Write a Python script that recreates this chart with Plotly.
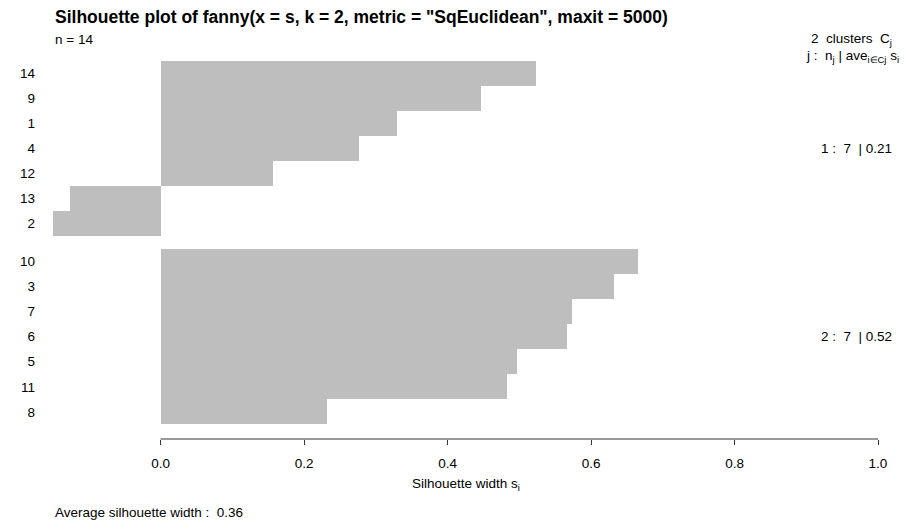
import plotly.graph_objects as go

# ---- data ----
cluster1_labels = ["14", "9", "1", "4", "12", "13", "2"]
cluster1_widths = [0.523, 0.447, 0.330, 0.276, 0.157, -0.127, -0.150]
cluster2_labels = ["10", "3", "7", "6", "5", "11", "8"]
cluster2_widths = [0.665, 0.632, 0.574, 0.567, 0.497, 0.483, 0.232]
cluster_ids = [1, 2]
cluster_sizes = [7, 7]
cluster_avgs = [0.21, 0.52]
avg_width = 0.36
n_obs = 14
x_ticks = [0.0, 0.2, 0.4, 0.6, 0.8, 1.0]

FONT = "Liberation Sans, Arial, Helvetica, sans-serif"
BAR = "#BEBEBE"
SP = "&nbsp;"

clusters = [(cluster1_labels, cluster1_widths), (cluster2_labels, cluster2_widths)]

# bar positions: bottom-up, half-bar gap between clusters (like R barplot space)
ypos, ylab, xval, centers = [], [], [], {}
pos = 0.0
for ci in reversed(range(len(clusters))):
    labs, vals = clusters[ci]
    start = pos
    for lab, v in zip(reversed(labs), reversed(vals)):
        ypos.append(pos + 0.5)
        ylab.append(lab)
        xval.append(v)
        pos += 1
    centers[ci] = (start + pos) / 2
    pos += 0.5
top = pos - 0.5
ext = 0.04 * top
yrange = [-ext, top + ext]

fig = go.Figure()
fig.add_trace(go.Bar(
    x=xval, y=ypos, orientation="h", width=1.0,
    marker=dict(color=BAR, line=dict(width=0)),
    hoverinfo="skip", showlegend=False,
))

OFF = 8  # page body margin in the browser
W, H = 908 - OFF, 521 - OFF
ml, mr, mt, mb = 44 - OFF, 30, 46 - OFF, 82
pw, ph = W - ml - mr, H - mt - mb


def px_x(p):  # p = pixel x in the reference picture
    return (p - OFF - ml) / pw


def px_y(p):  # p = pixel y in the reference picture
    return (H - mb - (p - OFF)) / ph


fig.update_layout(
    width=W, height=H,
    margin=dict(l=ml, r=mr, t=mt, b=mb, pad=0),
    paper_bgcolor="white", plot_bgcolor="white",
    font=dict(family=FONT, size=13.5, color="black"),
    bargap=0,
    xaxis=dict(
        range=[min(0, min(cluster1_widths + cluster2_widths)), 1.0],
        tickvals=x_ticks, ticktext=[f"{t:.1f}" for t in x_ticks],
        ticks="outside", ticklen=5, tickwidth=1, tickcolor="#333333",
        showgrid=False, zeroline=False, showline=False,
        ticklabelstandoff=7,
        tickfont=dict(size=13.5, color="black"),
    ),
    yaxis=dict(
        range=yrange, tickvals=ypos, ticktext=ylab,
        ticks="", showgrid=False, zeroline=False, showline=False,
        ticklabelstandoff=17,
        tickfont=dict(size=13.5, color="black"),
    ),
)

# axis line from 0 to 1 like R's axis()
fig.add_shape(type="line", xref="x", yref="paper", x0=x_ticks[0], x1=x_ticks[-1], y0=0, y1=0,
              line=dict(color="#333333", width=1))

ann = []
ann.append(dict(text="<b>Silhouette plot of fanny(x = s, k = 2, metric = \"SqEuclidean\", maxit = 5000)</b>",
                xref="paper", yref="paper", x=0, y=px_y(17), xanchor="left", yanchor="middle",
                showarrow=False, font=dict(size=17.5, family=FONT)))
ann.append(dict(text=f"n = {n_obs}", xref="paper", yref="paper", x=0, y=px_y(40),
                xanchor="left", yanchor="middle", showarrow=False, font=dict(size=13.5)))
ann.append(dict(text=f"{len(cluster_ids)}{SP}{SP}clusters{SP}{SP}C<sub>j</sub>", xref="paper", yref="paper",
                x=px_x(894), y=px_y(39), xanchor="right", yanchor="middle", showarrow=False,
                font=dict(size=13.5)))
ann.append(dict(text=f"j{SP}:{SP}{SP}n<sub>j</sub>{SP}|{SP}ave<sub>i∈Cj</sub>{SP}s<sub>i</sub>",
                xref="paper", yref="paper",
                x=px_x(901), y=px_y(56), xanchor="right", yanchor="middle", showarrow=False,
                font=dict(size=13.5)))
for ci, (cid, nsz, av) in enumerate(zip(cluster_ids, cluster_sizes, cluster_avgs)):
    ann.append(dict(text=f"{cid} :{SP}{SP}{nsz}{SP}{SP}| {av:.2f}", xref="paper", yref="y",
                    x=px_x(894), y=centers[ci], xanchor="right", yanchor="middle",
                    showarrow=False, font=dict(size=13.5)))
ann.append(dict(text="Silhouette width s<sub>i</sub>", xref="paper", yref="paper",
                x=0.5, y=px_y(484), xanchor="center", yanchor="middle", showarrow=False,
                font=dict(size=13.5)))
ann.append(dict(text=f"Average silhouette width :{SP}{SP}{avg_width:.2f}", xref="paper", yref="paper",
                x=0, y=px_y(512), xanchor="left", yanchor="middle", showarrow=False,
                font=dict(size=13.5)))
fig.update_layout(annotations=ann)

fig.write_html("out.html")
